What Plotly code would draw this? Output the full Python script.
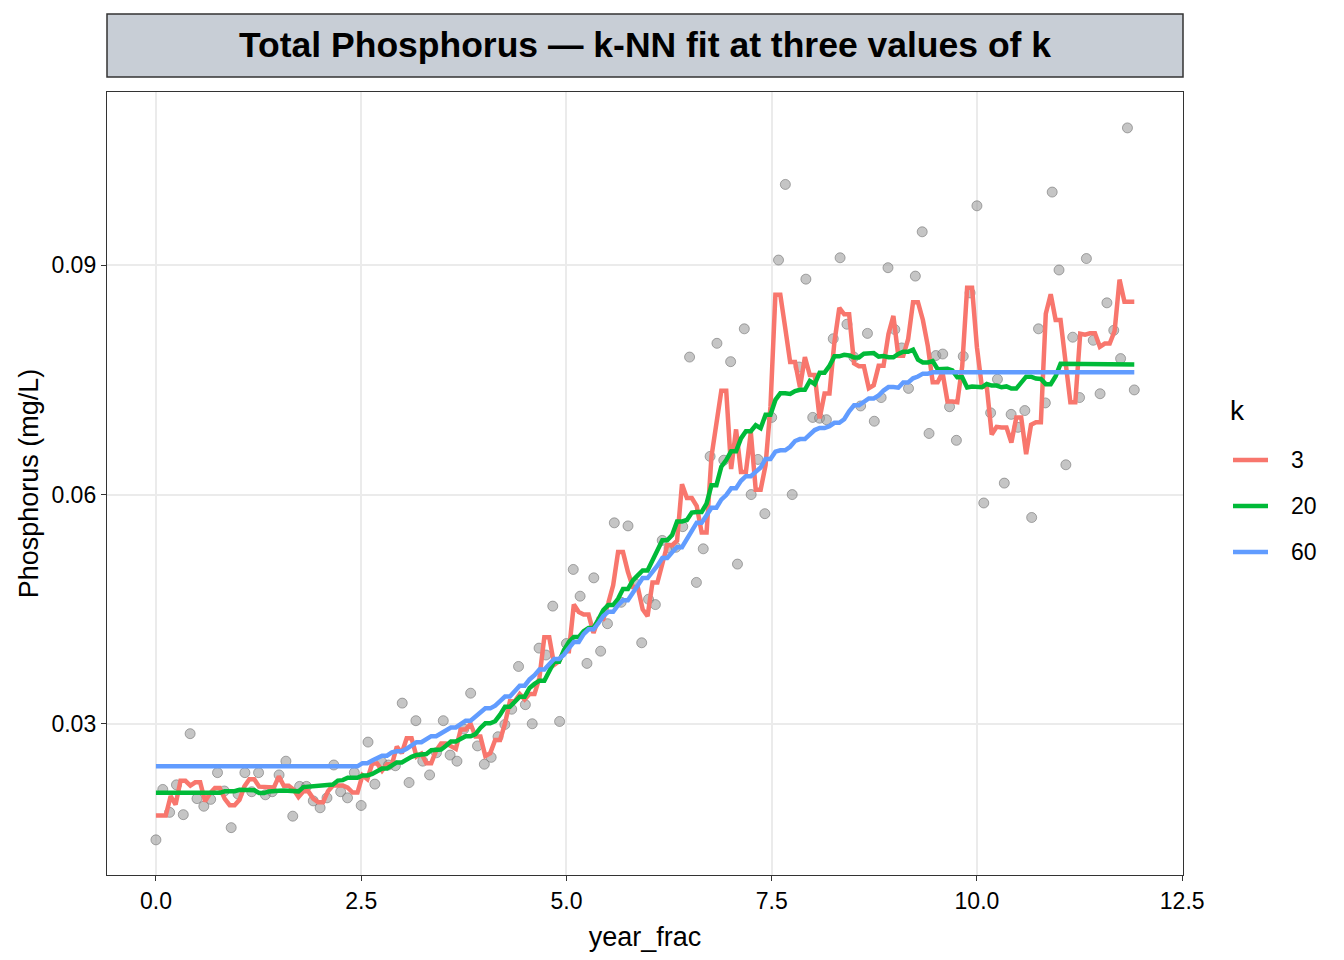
import numpy as np
import plotly.graph_objects as go

month_index = list(range(144))
phosphorus = [
    0.0148, 0.0214, 0.0184, 0.0220, 0.0181, 0.0287, 0.0202, 0.0192, 0.0201, 0.0236, 0.0212, 0.0164,
    0.0208, 0.0236, 0.0211, 0.0236, 0.0207, 0.0211, 0.0233, 0.0251, 0.0179, 0.0218, 0.0218, 0.0199,
    0.0190, 0.0203, 0.0246, 0.0211, 0.0203, 0.0236, 0.0193, 0.0276, 0.0221, 0.0250, 0.0246, 0.0245,
    0.0327, 0.0223, 0.0304, 0.0251, 0.0233, 0.0262, 0.0304, 0.0259, 0.0251, 0.0293, 0.0340, 0.0271,
    0.0247, 0.0256, 0.0283, 0.0299, 0.0319, 0.0375, 0.0325, 0.0300, 0.0399, 0.0390, 0.0454, 0.0303,
    0.0405, 0.0502, 0.0467, 0.0379, 0.0491, 0.0395, 0.0431, 0.0563, 0.0459, 0.0559, 0.0484, 0.0406,
    0.0463, 0.0456, 0.0540, 0.0530, 0.0531, 0.0558, 0.0780, 0.0485, 0.0529, 0.0650, 0.0798, 0.0645,
    0.0774, 0.0509, 0.0817, 0.0600, 0.0646, 0.0575, 0.0701, 0.0907, 0.1006, 0.0600, 0.0767, 0.0882,
    0.0701, 0.0700, 0.0698, 0.0804, 0.0910, 0.0823, 0.0780, 0.0716, 0.0811, 0.0696, 0.0727, 0.0897,
    0.0816, 0.0792, 0.0739, 0.0886, 0.0944, 0.0680, 0.0782, 0.0784, 0.0715, 0.0671, 0.0781, 0.0864,
    0.0978, 0.0589, 0.0707, 0.0751, 0.0615, 0.0705, 0.0688, 0.0710, 0.0570, 0.0817, 0.0720, 0.0996,
    0.0894, 0.0639, 0.0806, 0.0727, 0.0909, 0.0802, 0.0732, 0.0851, 0.0815, 0.0778, 0.1080, 0.0737,
]
k_values = [3, 20, 60]
k_colors = ["#F8766D", "#00BA38", "#619CFF"]
x_ticks = [0.0, 2.5, 5.0, 7.5, 10.0, 12.5]
x_tick_labels = ["0.0", "2.5", "5.0", "7.5", "10.0", "12.5"]
y_ticks = [0.03, 0.06, 0.09]
y_tick_labels = ["0.03", "0.06", "0.09"]
title_text = "Total Phosphorus \u2014 k-NN fit at three values of k"
legend_title = "k"

year_frac = np.array(month_index) / 12.0
yvals = np.array(phosphorus)


def knn_fit(xs, ys, grid, k):
    # k-NN regression fitted on log(y), back-transformed
    logy = np.log(ys)
    out = []
    for g in grid:
        d = np.abs(xs - g)
        idx = np.argsort(d, kind="stable")[:k]
        out.append(np.exp(logy[idx].mean()))
    return np.array(out)


grid = np.linspace(year_frac.min(), year_frac.max(), 200)

fig = go.Figure()
fig.add_trace(go.Scatter(
    x=year_frac, y=yvals, mode="markers", showlegend=False, hoverinfo="skip",
    marker=dict(size=10, color="rgba(150,150,150,0.55)",
                line=dict(color="rgba(115,115,115,0.6)", width=1)),
))
for k, col in zip(k_values, k_colors):
    fig.add_trace(go.Scatter(
        x=grid, y=knn_fit(year_frac, yvals, grid, k), mode="lines",
        name=str(k), showlegend=False,
        line=dict(color=col, width=4.5),
    ))

FONT = "Liberation Sans, Arial, Helvetica, sans-serif"
# page body has an 8px margin: figure 1328x944 placed at (8,8)
ML, MR, MT, MB = 99, 153, 84, 77
PW, PH = 1076, 783


def px(sx):
    return (sx - 8 - ML) / PW


def py(sy):
    return 1 - (sy - 8 - MT) / PH


shapes = [dict(
    type="rect", xref="paper", yref="paper",
    x0=0, x1=1, y0=py(77), y1=py(14),
    fillcolor="#C8CED6", line=dict(color="#333333", width=1.5), layer="above",
)]
annotations = [
    dict(text="<b>" + title_text + "</b>", xref="paper", yref="paper",
         x=0.5, y=py(45.5), xanchor="center", yanchor="middle",
         showarrow=False, font=dict(size=35.5, color="black", family=FONT)),
    dict(text=legend_title, xref="paper", yref="paper",
         x=px(1228), y=py(410), xanchor="left", yanchor="middle", showarrow=False,
         font=dict(size=28, color="black", family=FONT)),
]
for i, (k, col) in enumerate(zip(k_values, k_colors)):
    sy = 460 + 46 * i
    shapes.append(dict(type="line", xref="paper", yref="paper",
                       x0=px(1233), x1=px(1268), y0=py(sy), y1=py(sy),
                       line=dict(color=col, width=4.5)))
    annotations.append(dict(text=str(k), xref="paper", yref="paper",
                            x=px(1289), y=py(sy), xanchor="left", yanchor="middle",
                            showarrow=False,
                            font=dict(size=23, color="black", family=FONT)))

fig.update_layout(
    width=1328, height=944,
    paper_bgcolor="white", plot_bgcolor="white",
    margin=dict(l=ML, r=MR, t=MT, b=MB, autoexpand=False),
    font=dict(family=FONT, color="black", size=23),
    showlegend=False,
    xaxis=dict(
        range=[-0.596, 12.51], tickvals=x_ticks, ticktext=x_tick_labels,
        showgrid=True, gridcolor="#EBEBEB", gridwidth=1.5, zeroline=False,
        showline=True, linecolor="#333333", linewidth=1.4, mirror=True,
        ticks="outside", ticklen=5, tickwidth=1.4, tickcolor="#333333",
        tickfont=dict(size=23, color="black"), automargin=False,
        title=dict(text="year_frac", font=dict(size=27), standoff=18),
    ),
    yaxis=dict(
        range=[0.0102, 0.1127], tickvals=y_ticks, ticktext=y_tick_labels,
        showgrid=True, gridcolor="#EBEBEB", gridwidth=1.5, zeroline=False,
        showline=True, linecolor="#333333", linewidth=1.4, mirror=True,
        ticks="outside", ticklen=5, tickwidth=1.4, tickcolor="#333333",
        tickfont=dict(size=23, color="black"), automargin=False,
        title=dict(text="Phosphorus (mg/L)", font=dict(size=27), standoff=4),
    ),
    shapes=shapes,
    annotations=annotations,
)

fig.write_html("out.html")
